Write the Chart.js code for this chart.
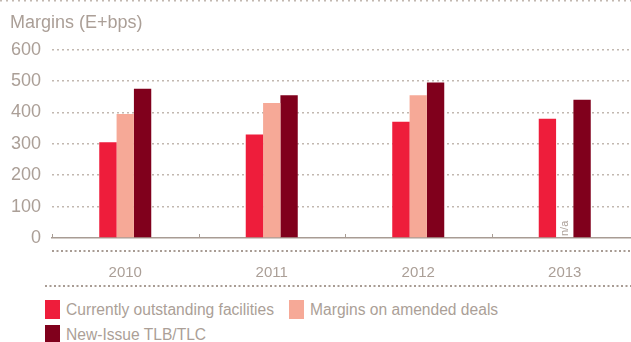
<!DOCTYPE html>
<html lang="en">
<head>
<meta charset="UTF-8">
<title>Margins (E+bps)</title>
<script src="https://cdn.jsdelivr.net/npm/chart.js@4.4.1/dist/chart.umd.min.js"></script>
<style>
    html, body {
        margin: 0;
        padding: 0;
        background: #ffffff;
        overflow: hidden;
        width: 631px;
        height: 342px;
    }
    .chart-box {
        position: absolute;
        left: 0;
        top: 0;
        width: 640px;
        height: 290px;
    }
    #legend {
        position: absolute;
        left: 45px;
        top: 300px;
        width: 586px;
        display: flex;
        flex-wrap: wrap;
        column-gap: 15px;
        row-gap: 6px;
        font-family: 'Liberation Sans', Arial, sans-serif;
        font-size: 15.6px;
        color: #ab9f97;
    }
    #legend .item {
        display: flex;
        align-items: center;
        height: 19px;
        white-space: nowrap;
    }
    #legend .swatch {
        width: 15px;
        height: 19px;
        margin-right: 6px;
    }
</style>
</head>
<body>

<div class="chart-box">
    <canvas id="marginsChart"></canvas>
</div>
<div id="legend"></div>

<script>
    // Data
    const years = ['2010', '2011', '2012', '2013'];
    const outstanding = [305, 330, 370, 380];
    const amended = [395, 430, 455, null];   // 2013 not available
    const newIssue = [475, 455, 495, 440];
    const yTicks = [0, 100, 200, 300, 400, 500, 600];

    const textColor = '#ab9f97';
    const dotColor = '#c2b8b0';
    const axisColor = '#a89c94';
    const fontFamily = "'Liberation Sans', Arial, sans-serif";

    // Extra lines, tick marks and the n/a note
    const decorations = {
        id: 'decorations',
        afterDraw(chart) {
            const { ctx, chartArea, width } = chart;
            const xScale = chart.scales.x;
            ctx.save();

            // dotted rule along the top edge
            ctx.strokeStyle = dotColor;
            ctx.lineWidth = 1.5;
            ctx.setLineDash([2, 4]);
            ctx.beginPath();
            ctx.moveTo(0, 0.75);
            ctx.lineTo(width, 0.75);
            ctx.stroke();

            // dotted rules around the year labels
            ctx.strokeStyle = axisColor;
            ctx.lineWidth = 2;
            ctx.setLineDash([2, 2.5]);
            ctx.beginPath();
            ctx.moveTo(chartArea.left, chartArea.bottom + 13);
            ctx.lineTo(width, chartArea.bottom + 13);
            ctx.moveTo(45, chartArea.bottom + 48);
            ctx.lineTo(width, chartArea.bottom + 48);
            ctx.stroke();

            // small upward ticks between categories
            ctx.setLineDash([]);
            ctx.lineWidth = 1;
            const step = (chartArea.right - chartArea.left) / years.length;
            ctx.beginPath();
            for (let i = 0; i <= years.length; i++) {
                const x = Math.round(chartArea.left + i * step) + 0.5;
                ctx.moveTo(x, chartArea.bottom);
                ctx.lineTo(x, chartArea.bottom - 4);
            }
            ctx.stroke();

            // "n/a" where the amended-deal bar is missing
            const meta = chart.getDatasetMeta(1);
            amended.forEach((v, i) => {
                if (v !== null) return;
                const bar = meta.data[i];
                const x = bar && isFinite(bar.x) ? bar.x : xScale.getPixelForValue(i);
                ctx.translate(x, chartArea.bottom - 2);
                ctx.rotate(-Math.PI / 2);
                ctx.fillStyle = textColor;
                ctx.font = '11px ' + fontFamily;
                ctx.textAlign = 'left';
                ctx.textBaseline = 'middle';
                ctx.fillText('n/a', 0, 0);
                ctx.setTransform(1, 0, 0, 1, 0, 0);
            });
            ctx.restore();
        }
    };

    const ctx = document.getElementById('marginsChart').getContext('2d');
    const chart = new Chart(ctx, {
        type: 'bar',
        data: {
            labels: years,
            datasets: [
                { label: 'Currently outstanding facilities', data: outstanding, backgroundColor: '#ee1d3b' },
                { label: 'Margins on amended deals', data: amended, backgroundColor: '#f6a997' },
                { label: 'New-Issue TLB/TLC', data: newIssue, backgroundColor: '#80001c' }
            ]
        },
        options: {
            responsive: true,
            maintainAspectRatio: false,
            animation: false,
            layout: { padding: { left: 10, right: 2, top: 0, bottom: 0 } },
            datasets: {
                bar: { barPercentage: 1, categoryPercentage: 0.355, borderWidth: 0 }
            },
            plugins: {
                legend: { display: false },
                tooltip: { enabled: false },
                title: {
                    display: true,
                    text: 'Margins (E+bps)',
                    align: 'start',
                    color: textColor,
                    font: { family: fontFamily, size: 18, weight: 'normal' },
                    padding: { top: 12, bottom: 16 }
                }
            },
            scales: {
                x: {
                    grid: { display: false },
                    border: { display: true, color: axisColor, width: 1.5 },
                    ticks: {
                        color: textColor,
                        padding: 18,
                        font: { family: fontFamily, size: 15 }
                    },
                    afterFit(scale) { scale.height = 52; }
                },
                y: {
                    min: yTicks[0],
                    max: yTicks[yTicks.length - 1],
                    afterBuildTicks(scale) { scale.ticks = yTicks.map(v => ({ value: v })); },
                    grid: {
                        drawTicks: false,
                        color: ctx => ctx.tick && ctx.tick.value === 0 ? 'rgba(0,0,0,0)' : dotColor,
                        lineWidth: 1.5,
                    },
                    // dash here applies to the dotted grid lines
                    border: { display: false, dash: [2, 3] },
                    ticks: {
                        color: textColor,
                        padding: 11,
                        font: { family: fontFamily, size: 18 }
                    },
                    afterFit(scale) { scale.width = 42; }
                }
            }
        },
        plugins: [decorations]
    });

    // Legend built from the chart's own items
    const legendEl = document.getElementById('legend');
    chart.options.plugins.legend.labels.generateLabels(chart).forEach(item => {
        const row = document.createElement('div');
        row.className = 'item';
        const sw = document.createElement('span');
        sw.className = 'swatch';
        sw.style.background = item.fillStyle;
        const label = document.createElement('span');
        label.textContent = item.text;
        row.appendChild(sw);
        row.appendChild(label);
        legendEl.appendChild(row);
    });
</script>
</body>
</html>
